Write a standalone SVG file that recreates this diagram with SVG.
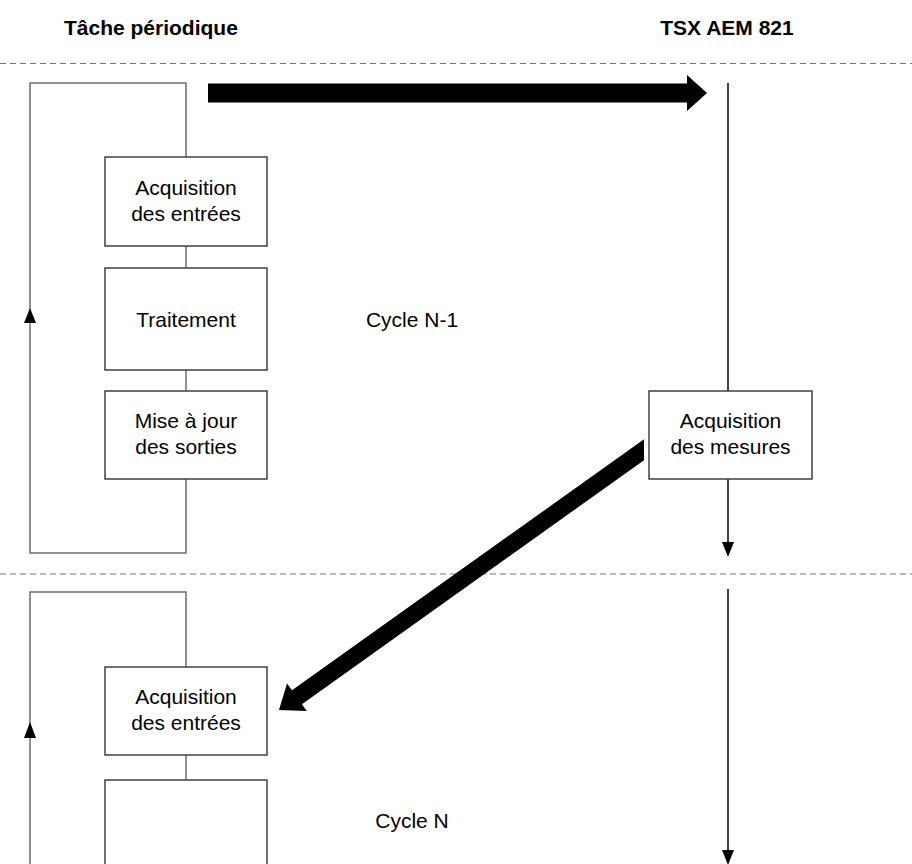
<svg xmlns="http://www.w3.org/2000/svg" width="912" height="864" viewBox="0 0 912 864">
  <style>
    .hdr { font-family: "Liberation Sans", Arial, sans-serif; font-size: 21px; font-weight: bold; fill: #000; }
    .lbl { font-family: "Liberation Sans", Arial, sans-serif; font-size: 21px; fill: #000; text-anchor: middle; }
    .box { fill: #fff; stroke: #333; stroke-width: 1.4; }
    .loop { fill: none; stroke: #6e6e6e; stroke-width: 1.5; }
    .flow { fill: none; stroke: #000; stroke-width: 1.5; }
    .sep { fill: none; stroke: #777; stroke-width: 1.2; stroke-dasharray: 6 4; }
    .big { fill: #000; stroke: none; }
    .head { fill: #000; stroke: none; }
  </style>

  <rect width="912" height="864" fill="#fff"/>

  <!-- column titles -->
  <text class="hdr" x="64" y="35">Tâche périodique</text>
  <text class="hdr" x="727" y="35" text-anchor="middle">TSX AEM 821</text>

  <!-- cycle separators -->
  <line class="sep" x1="0" y1="63.5" x2="912" y2="63.5"/>
  <line class="sep" x1="0" y1="574" x2="912" y2="574"/>

  <g id="connectors">
    <!-- cycle N-1 loop -->
    <polyline class="loop" points="186,157 186,83 30,83 30,553 186,553 186,479"/>
    <line class="loop" x1="186" y1="246" x2="186" y2="268"/>
    <line class="loop" x1="186" y1="370" x2="186" y2="391"/>
    <polygon class="head" points="30,308 24,323 36,323"/>

    <!-- cycle N loop -->
    <polyline class="loop" points="186,667 186,592 30,592 30,864"/>
    <line class="loop" x1="186" y1="755" x2="186" y2="780"/>
    <polygon class="head" points="30,722 24,738 36,738"/>

    <!-- module time line -->
    <line class="flow" x1="728" y1="83" x2="728" y2="391"/>
    <line class="flow" x1="728" y1="479" x2="728" y2="545"/>
    <polygon class="head" points="728,557 722,542 734,542"/>
    <line class="flow" x1="728" y1="589" x2="728" y2="852"/>
    <polygon class="head" points="728,865 722,850 734,850"/>

    <!-- data exchanges -->
    <polygon class="big" points="208,83.5 687,83.5 687,75 707,93 687,111 687,102.5 208,102.5"/>
    <polygon class="big" points="644,439.3 292,690.3 287,683.4 279,710 306.8,711.1 301.9,704.2 644,460.2"/>
  </g>

  <!-- cycle N-1 -->
  <g id="acq-entrees-1">
    <rect class="box" x="105" y="157" width="162" height="89"/>
    <text class="lbl" x="186" y="195">Acquisition</text>
    <text class="lbl" x="186" y="221">des entrées</text>
  </g>
  <g id="traitement-1">
    <rect class="box" x="105" y="268" width="162" height="102"/>
    <text class="lbl" x="186" y="327">Traitement</text>
  </g>
  <g id="maj-sorties-1">
    <rect class="box" x="105" y="391" width="162" height="88"/>
    <text class="lbl" x="186" y="428">Mise à jour</text>
    <text class="lbl" x="186" y="454">des sorties</text>
  </g>
  <g id="acq-mesures">
    <rect class="box" x="649" y="391" width="163" height="88"/>
    <text class="lbl" x="730.5" y="428">Acquisition</text>
    <text class="lbl" x="730.5" y="454">des mesures</text>
  </g>
  <g id="cycle-n-1">
    <text class="lbl" x="412" y="327">Cycle N-1</text>
  </g>

  <!-- cycle N -->
  <g id="acq-entrees-2">
    <rect class="box" x="105" y="667" width="162" height="88"/>
    <text class="lbl" x="186" y="704">Acquisition</text>
    <text class="lbl" x="186" y="730">des entrées</text>
  </g>
  <g id="traitement-2">
    <rect class="box" x="105" y="780" width="162" height="100"/>
  </g>
  <g id="cycle-n">
    <text class="lbl" x="412" y="828">Cycle N</text>
  </g>
</svg>
